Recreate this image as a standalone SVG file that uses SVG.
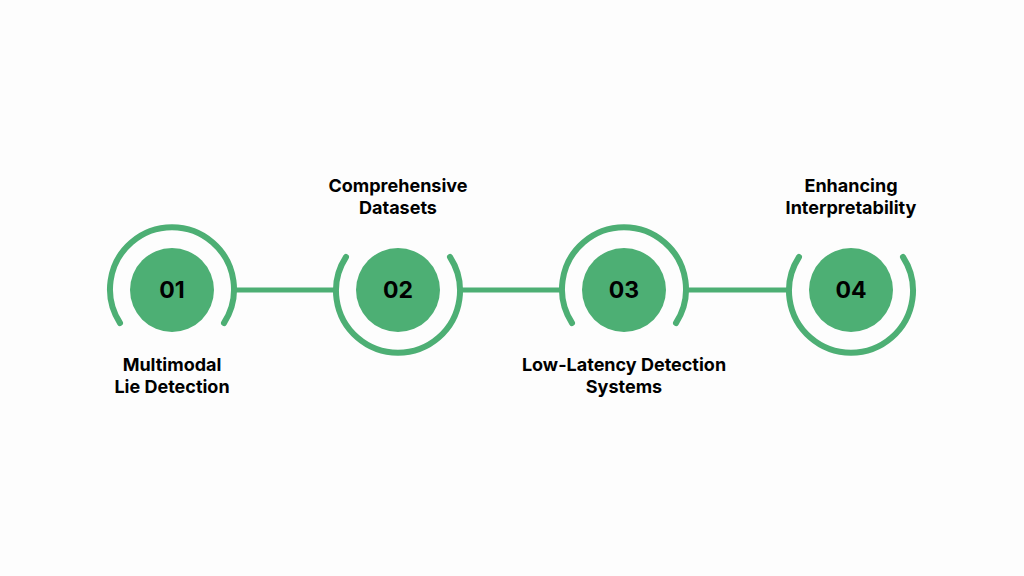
<svg xmlns="http://www.w3.org/2000/svg" width="1024" height="576" viewBox="0 0 1024 576">
<style>
.arc{fill:none;stroke:#4daf74;stroke-width:6;stroke-linecap:round}
.ln{stroke:#4daf74;stroke-width:5}
.c{fill:#4daf74}
.n{font-family:Inter,"Liberation Sans",sans-serif;font-weight:700;font-size:23px;fill:#000;text-anchor:middle}
.t{font-family:Inter,"Liberation Sans",sans-serif;font-weight:700;font-size:18px;fill:#000;text-anchor:middle}
</style>
<rect width="1024" height="576" fill="#fdfdfd"/>
<g id="connectors">
<line class="ln" x1="235" y1="290" x2="336" y2="290"/>
<line class="ln" x1="461" y1="290" x2="562" y2="290"/>
<line class="ln" x1="687" y1="290" x2="789" y2="290"/>
</g>
<g id="n1">
<path class="arc" d="M120 323 A62 62 0 1 1 224 323"/>
<circle class="c" cx="172" cy="290" r="42"/>
<text class="n" x="172" y="298">01</text>
<text class="t" x="172" y="371">Multimodal</text>
<text class="t" x="172" y="393">Lie Detection</text>
</g>
<g id="n2">
<path class="arc" d="M346 257 A62 62 0 1 0 450 257"/>
<circle class="c" cx="398" cy="290" r="42"/>
<text class="n" x="398" y="298">02</text>
<text class="t" x="398" y="192">Comprehensive</text>
<text class="t" x="398" y="214">Datasets</text>
</g>
<g id="n3">
<path class="arc" d="M572 323 A62 62 0 1 1 676 323"/>
<circle class="c" cx="624" cy="290" r="42"/>
<text class="n" x="624" y="298">03</text>
<text class="t" x="624" y="371">Low-Latency Detection</text>
<text class="t" x="624" y="393">Systems</text>
</g>
<g id="n4">
<path class="arc" d="M799 257 A62 62 0 1 0 903 257"/>
<circle class="c" cx="851" cy="290" r="42"/>
<text class="n" x="851" y="298">04</text>
<text class="t" x="851" y="192">Enhancing</text>
<text class="t" x="851" y="214">Interpretability</text>
</g>
</svg>
